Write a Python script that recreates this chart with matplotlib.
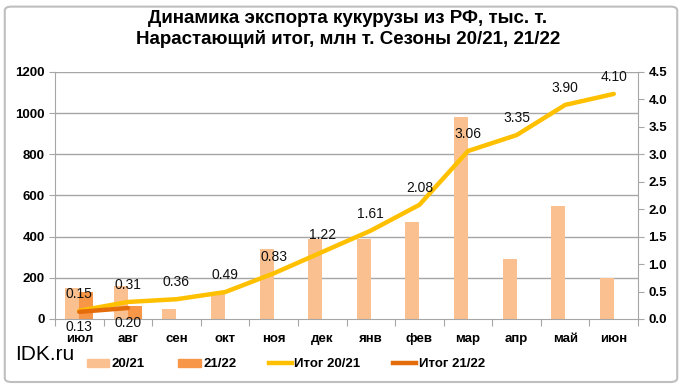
import numpy as np
import matplotlib.pyplot as plt
from matplotlib.patches import FancyBboxPatch
from matplotlib.lines import Line2D
from matplotlib.patches import Patch

plt.rcParams['font.family'] = ['Liberation Sans', 'DejaVu Sans']

# data
months = ['июл', 'авг', 'сен', 'окт', 'ноя', 'дек', 'янв', 'фев', 'мар', 'апр', 'май', 'июн']
exp_2021 = [150, 160, 50, 130, 340, 390, 390, 470, 980, 290, 550, 200]
exp_2122 = [130, 65]
cum_2021 = [0.15, 0.31, 0.36, 0.49, 0.83, 1.22, 1.61, 2.08, 3.06, 3.35, 3.90, 4.10]
cum_2122 = [0.13, 0.20]

c_bar1 = '#FAC090'
c_bar2 = '#F79646'
c_line1 = '#FFC000'
c_line2 = '#E46C0A'
grid_c = '#A6A6A6'

fig = plt.figure(figsize=(6.82, 3.89), dpi=100)
ax = fig.add_axes([0.0806, 0.18, 0.855, 0.635])
ax2 = ax.twinx()

x = np.arange(len(months))
w = 0.29
ax.bar(x - w / 2, exp_2021, width=w, color=c_bar1, zorder=2)
ax.bar(x[:len(exp_2122)] + w / 2, exp_2122, width=w, color=c_bar2, zorder=2)

ax.set_ylim(0, 1200)
ax.set_yticks(np.arange(0, 1201, 200))
ax.set_xlim(-0.5, len(months) - 0.5)
for v in np.arange(200, 1201, 200):
    ax.axhline(v, color=grid_c, lw=1, zorder=1)

ax2.plot(x, cum_2021, color=c_line1, lw=3.2, solid_capstyle='round', zorder=3)
ax2.plot(x[:len(cum_2122)], cum_2122, color=c_line2, lw=3.2, solid_capstyle='round', zorder=4)
ax2.set_ylim(0, 4.5)
ax2.set_yticks(np.arange(0, 4.51, 0.5))
ax2.set_yticklabels([f'{v:.1f}' for v in np.arange(0, 4.51, 0.5)])

for xi, v in zip(x, cum_2021):
    ax2.annotate(f'{v:.2f}', (xi, v), xytext=(0, 7), textcoords='offset points',
                 ha='center', va='bottom', fontsize=10, color='#111111')
for xi, v in zip(x, cum_2122):
    ax2.annotate(f'{v:.2f}', (xi, v), xytext=(0, -6), textcoords='offset points',
                 ha='center', va='top', fontsize=10, color='#111111')

# ticks between categories
ax.set_xticks(np.arange(-0.5, len(months), 1))
ax.set_xticklabels([])
ax.set_xticks(x, minor=True)
ax.set_xticklabels(months, minor=True, fontsize=9.5, fontweight='bold')
ax.tick_params(axis='x', which='minor', length=0, pad=10)
ax.tick_params(axis='x', which='major', length=5, color=grid_c, direction='out')
ax.tick_params(axis='y', length=4, color=grid_c, labelsize=9.5)
ax2.tick_params(axis='y', length=4, color=grid_c, labelsize=9.5)
for t in ax.get_yticklabels() + ax2.get_yticklabels():
    t.set_fontweight('bold')

for a in (ax, ax2):
    a.spines['top'].set_visible(False)
    for s in ('left', 'right', 'bottom'):
        a.spines[s].set_color(grid_c)
ax.spines['right'].set_visible(False)
ax2.spines['left'].set_visible(False)
ax2.spines['bottom'].set_visible(False)

fig.text(0.51, 0.975, 'Динамика экспорта кукурузы из РФ, тыс. т.\nНарастающий итог, млн т. Сезоны 20/21, 21/22',
         ha='center', va='top', fontsize=13.5, fontweight='bold', linespacing=1.2)

fig.text(0.022, 0.088, 'IDK.ru', fontsize=15, ha='left', va='center')

handles = [Patch(color=c_bar1), Patch(color=c_bar2),
           Line2D([], [], color=c_line1, lw=3.2), Line2D([], [], color=c_line2, lw=3.2)]
fig.legend(handles, ['20/21', '21/22', 'Итог 20/21', 'Итог 21/22'], ncol=4, frameon=False,
           loc='center left', bbox_to_anchor=(0.11, 0.063),
           prop={'weight': 'bold', 'size': 9.5}, handlelength=1.7, handleheight=0.6,
           handletextpad=0.2, columnspacing=2.5)

fig.patches.append(FancyBboxPatch((0.007, 0.018), 0.986, 0.965, boxstyle='round,pad=0,rounding_size=0.01',
                                  transform=fig.transFigure, fill=False, edgecolor='#BFBFBF', lw=1.5))

fig.savefig('out.png', dpi=100)
